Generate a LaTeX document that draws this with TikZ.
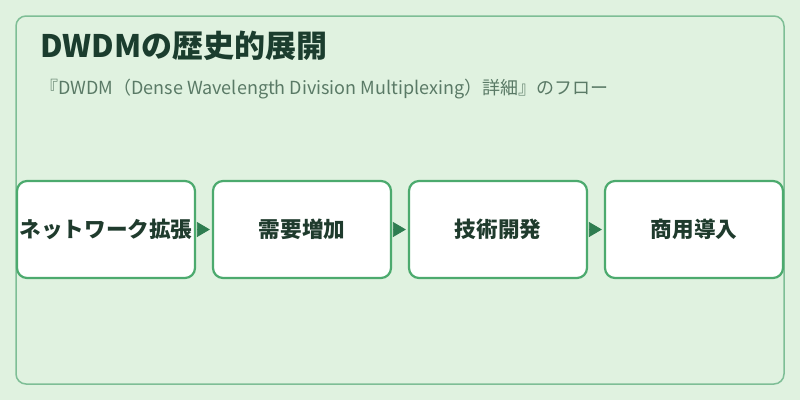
\documentclass[tikz,border=0pt]{standalone}
\usepackage{fontspec}
\setmainfont{Noto Sans CJK JP}
\usetikzlibrary{arrows.meta}
\definecolor{bgc}{RGB}{224,242,224}
\definecolor{outerc}{RGB}{126,190,150}
\definecolor{boxc}{RGB}{76,170,110}
\definecolor{arrc}{RGB}{46,125,80}
\definecolor{titlec}{RGB}{27,61,46}
\definecolor{subc}{RGB}{90,122,102}
\definecolor{textc}{RGB}{31,59,45}
\tikzset{
  stepbox/.style={draw=boxc, line width=2.2pt, fill=white, rounded corners=10pt,
    minimum width=178pt, minimum height=97pt, inner sep=0pt,
    font=\fontsize{21.6}{24}\selectfont\bfseries, text=textc},
  flow/.style={draw=arrc, line width=0.8pt, shorten <=2pt, shorten >=2pt,
    -{Triangle[length=13pt,width=15pt]}, arrc}
}
\begin{document}
\begin{tikzpicture}[x=1pt,y=-1pt]
\path[fill=bgc] (0,0) rectangle (800,400);
\useasboundingbox (0,0) rectangle (800,400);
\draw[outerc, line width=1.5pt, rounded corners=10pt] (16,16) rectangle (784,384);
\node[anchor=base west, inner sep=0pt, text=titlec, font=\fontsize{31}{34}\selectfont\bfseries] (title) at (40,57) {DWDMの歴史的展開};
\node[anchor=base west, inner sep=0pt, text=subc, font=\fontsize{18}{20}\selectfont] (sub) at (40,94) {『DWDM（Dense Wavelength Division Multiplexing）詳細』のフロー};
\node[stepbox] (b1) at (106,229.5) {ネットワーク拡張};
\node[stepbox] (b2) at (302,229.5) {需要増加};
\node[stepbox] (b3) at (498,229.5) {技術開発};
\node[stepbox] (b4) at (694,229.5) {商用導入};
\draw[flow] (b1.east) -- (b2.west);
\draw[flow] (b2.east) -- (b3.west);
\draw[flow] (b3.east) -- (b4.west);
\end{tikzpicture}
\end{document}
